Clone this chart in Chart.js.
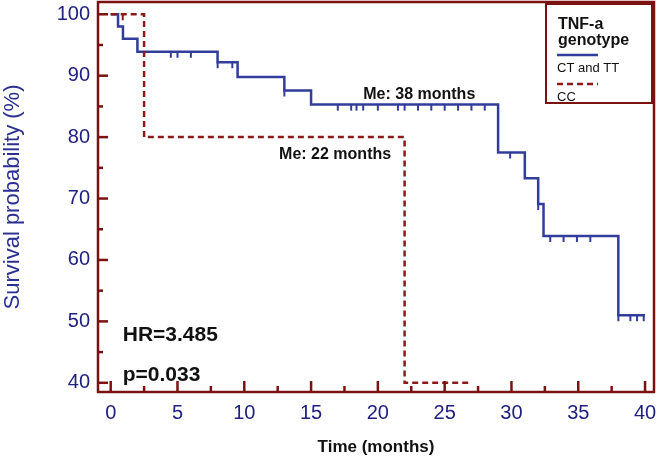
<!DOCTYPE html>
<html>
<head>
<meta charset="utf-8">
<script src="https://cdn.jsdelivr.net/npm/chart.js@4.4.1/dist/chart.umd.min.js"></script>
<style>
  html, body { margin: 0; padding: 0; background: #fff; }
  #wrap { width: 658px; height: 462px; position: relative; }
</style>
</head>
<body>
<div id="wrap"><canvas id="km"></canvas></div>
<script>
// axis ticks
const xTicks = [0, 5, 10, 15, 20, 25, 30, 35, 40];
const yTicks = [40, 50, 60, 70, 80, 90, 100];

// CT and TT (step points: time, survival after the step)
const ctTimes = [0, 0.55, 0.92, 2.0, 8.0, 9.5, 13.0, 15.0, 29.0, 31.0, 32.0, 32.4, 38.0, 40.0];
const ctSurv  = [100, 98.0, 96.0, 93.9, 92.2, 89.8, 87.6, 85.3, 77.5, 73.3, 69.1, 63.9, 51.0, 51.0];
const ctCensorTimes = [4.5, 5.0, 6.0, 8.0, 9.1, 13.0, 17.0, 18.0, 18.4, 18.9, 20.0, 21.5, 22.0, 23.0, 24.0, 25.0, 26.0, 27.0, 28.0, 29.9, 32.0, 32.9, 33.9, 34.9, 35.9, 38.0, 38.9, 39.4, 39.9];
const ctCensorSurv  = [93.9, 93.9, 93.9, 92.2, 92.2, 87.6, 85.3, 85.3, 85.3, 85.3, 85.3, 85.3, 85.3, 85.3, 85.3, 85.3, 85.3, 85.3, 85.3, 77.5, 69.1, 63.9, 63.9, 63.9, 63.9, 51.0, 51.0, 51.0, 51.0];

// CC
const ccTimes = [0, 2.5, 22.0, 27.0];
const ccSurv  = [100, 80, 40, 40];
const ccCensorTimes = [0.9];
const ccCensorSurv  = [100];

// text notes (data units)
const notes = [
  { text: 'Me: 38 months', x: 23.1, y: 86.9, font: 'bold 16px "Liberation Sans", Arial', align: 'center' },
  { text: 'Me: 22 months', x: 16.8, y: 77.2, font: 'bold 16px "Liberation Sans", Arial', align: 'center' },
  { text: 'HR=3.485', x: 0.9, y: 47.8, font: 'bold 21px "Liberation Sans", Arial', align: 'left' },
  { text: 'p=0.033', x: 0.9, y: 41.3, font: 'bold 21px "Liberation Sans", Arial', align: 'left' }
];

const blue = '#323c9a';
const red = '#8b1a1a';
const frame = '#7a1212';
const navy = '#1f2080';

const pts = (xs, ys) => xs.map((x, i) => ({ x: x, y: ys[i] }));

// censor mark: short tick hanging below the point
function censorMark(color) {
  const c = document.createElement('canvas');
  c.width = 4; c.height = 14;
  const g = c.getContext('2d');
  g.strokeStyle = color; g.lineWidth = 2;
  g.beginPath(); g.moveTo(2, 7); g.lineTo(2, 13); g.stroke();
  return c;
}

// no extra room for the end labels, the frame goes to the edge
function noEdgePadding(s) {
  s.paddingTop = 0; s.paddingBottom = 0;
  s.paddingLeft = 0; s.paddingRight = 0;
}

const framePlugin = {
  id: 'framePlugin',
  afterDraw(chart) {
    const ctx = chart.ctx, a = chart.chartArea;
    const xs = chart.scales.x, ys = chart.scales.y;
    ctx.save();
    ctx.strokeStyle = frame;
    ctx.lineWidth = 2.5;
    ctx.strokeRect(a.left, a.top, a.right - a.left, a.bottom - a.top);
    // inward tick marks, minor halfway
    for (let v = 40; v <= 100; v += 5) {
      const y = ys.getPixelForValue(v);
      const len = v % 10 === 0 ? 10 : 5;
      ctx.beginPath(); ctx.moveTo(a.left, y); ctx.lineTo(a.left + len, y); ctx.stroke();
    }
    for (let t = 0; t <= 40; t += 2.5) {
      const x = xs.getPixelForValue(t);
      const len = t % 5 === 0 ? 11 : 6;
      ctx.beginPath(); ctx.moveTo(x, a.bottom); ctx.lineTo(x, a.bottom - len); ctx.stroke();
    }
    // notes
    ctx.fillStyle = '#111';
    ctx.textBaseline = 'middle';
    notes.forEach(n => {
      ctx.font = n.font;
      ctx.textAlign = n.align;
      ctx.fillText(n.text, xs.getPixelForValue(n.x), ys.getPixelForValue(n.y));
    });
    // legend box
    const lx = a.right - 108, ly = a.top + 2;
    ctx.lineWidth = 2;
    ctx.strokeRect(lx, ly, 106, 99);
    ctx.textAlign = 'left';
    ctx.font = 'bold 16px "Liberation Sans", Arial';
    ctx.fillText('TNF-a', lx + 12, ly + 21);
    ctx.fillText('genotype', lx + 12, ly + 37);
    ctx.lineWidth = 2.5;
    ctx.strokeStyle = blue;
    ctx.beginPath(); ctx.moveTo(lx + 11, ly + 51); ctx.lineTo(lx + 52, ly + 51); ctx.stroke();
    ctx.strokeStyle = red;
    ctx.setLineDash([6, 4]);
    ctx.beginPath(); ctx.moveTo(lx + 11, ly + 80); ctx.lineTo(lx + 52, ly + 80); ctx.stroke();
    ctx.setLineDash([]);
    ctx.font = '13px "Liberation Sans", Arial';
    ctx.fillText(chart.data.datasets[1].label, lx + 11, ly + 64);
    ctx.fillText(chart.data.datasets[0].label, lx + 11, ly + 93);
    ctx.restore();
  }
};

new Chart(document.getElementById('km'), {
  type: 'line',
  data: {
    datasets: [
      {
        label: 'CC',
        data: pts(ccTimes, ccSurv),
        stepped: 'before',
        borderColor: red,
        borderWidth: 2.5,
        borderDash: [6, 4],
        pointRadius: 0,
        fill: false
      },
      {
        label: 'CT and TT',
        data: pts(ctTimes, ctSurv),
        stepped: 'before',
        borderColor: blue,
        borderWidth: 2.5,
        pointRadius: 0,
        fill: false
      },
      {
        label: 'CC censored',
        data: pts(ccCensorTimes, ccCensorSurv),
        showLine: false,
        pointStyle: censorMark(red),
        pointRadius: 7
      },
      {
        label: 'CT and TT censored',
        data: pts(ctCensorTimes, ctCensorSurv),
        showLine: false,
        pointStyle: censorMark(blue),
        pointRadius: 7
      }
    ]
  },
  options: {
    responsive: true,
    maintainAspectRatio: false,
    animation: false,
    layout: { autoPadding: false, padding: { top: 2, right: 4, left: 0, bottom: 0 } },
    plugins: {
      legend: { display: false },
      tooltip: { enabled: false }
    },
    scales: {
      x: {
        type: 'linear',
        min: -0.95,
        max: 40.67,
        afterBuildTicks: s => { s.ticks = xTicks.map(v => ({ value: v })); },
        afterFit: s => { s.height = 70; noEdgePadding(s); },
        grid: { display: false, drawTicks: false },
        border: { display: false },
        ticks: {
          color: navy,
          padding: 9,
          maxRotation: 0,
          font: { family: '"Liberation Sans", Arial', size: 20 }
        },
        title: {
          display: true,
          text: 'Time (months)',
          color: '#111',
          padding: { top: 4, bottom: 4 },
          font: { family: '"Liberation Sans", Arial', size: 17, weight: 'bold' }
        }
      },
      y: {
        type: 'linear',
        min: 38.5,
        max: 102,
        afterBuildTicks: s => { s.ticks = yTicks.map(v => ({ value: v })); },
        afterFit: s => { s.width = 98; noEdgePadding(s); },
        grid: { display: false, drawTicks: false },
        border: { display: false },
        ticks: {
          color: navy,
          padding: 8,
          font: { family: '"Liberation Sans", Arial', size: 20 }
        },
        title: {
          display: true,
          text: 'Survival probability (%)',
          color: '#2b2f8f',
          padding: { top: 0, bottom: 0 },
          font: { family: '"Liberation Sans", Arial', size: 22 }
        }
      }
    }
  },
  plugins: [framePlugin]
});
</script>
</body>
</html>
